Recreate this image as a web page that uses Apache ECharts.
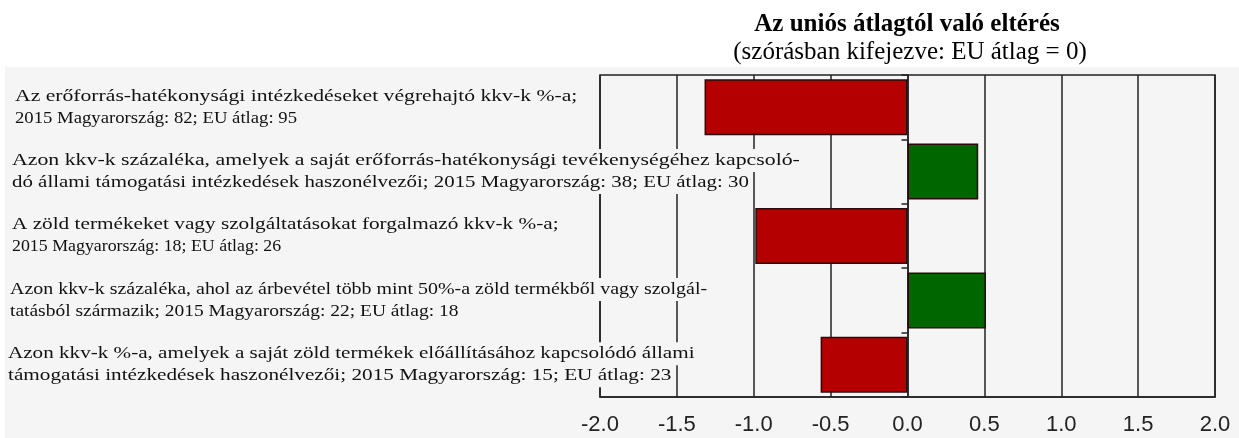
<!DOCTYPE html>
<html>
<head>
<meta charset="utf-8">
<script src="https://cdn.jsdelivr.net/npm/echarts@6/dist/echarts.min.js"></script>
<style>
  html, body { margin: 0; padding: 0; background: #ffffff; }
  #chart { width: 1239px; height: 438px; }
</style>
</head>
<body>
<div id="chart"></div>
<script>
const labelLine1 = [
  "Az erőforrás-hatékonysági intézkedéseket végrehajtó kkv-k %-a;",
  "Azon kkv-k százaléka, amelyek a saját erőforrás-hatékonysági tevékenységéhez kapcsoló-",
  "A zöld termékeket vagy szolgáltatásokat forgalmazó kkv-k %-a;",
  "Azon kkv-k százaléka, ahol az árbevétel több mint 50%-a zöld termékből vagy szolgál-",
  "Azon kkv-k %-a, amelyek a saját zöld termékek előállításához kapcsolódó állami"
];
const labelLine2 = [
  "2015 Magyarország: 82; EU átlag: 95",
  "dó állami támogatási intézkedések haszonélvezői; 2015 Magyarország: 38; EU átlag: 30",
  "2015 Magyarország: 18; EU átlag: 26",
  "tatásból származik; 2015 Magyarország: 22; EU átlag: 18",
  "támogatási intézkedések haszonélvezői; 2015 Magyarország: 15; EU átlag: 23"
];
const deviation = [-1.32, 0.46, -0.99, 0.51, -0.565];
const titleText = "Az uniós átlagtól való eltérés";
const subtitleText = "(szórásban kifejezve: EU átlag = 0)";

// text styling (horizontal stretch of each label line, left offset of each label)
const stretchLine1 = [1.274, 1.283, 1.25, 1.173, 1.242];
const stretchLine2 = [1.1, 1.229, 1.05, 1.146, 1.248];
const labelLeft = [15, 12, 12, 10, 8];

const categories = labelLine1.map((l, i) => l + "\n" + labelLine2[i]);

const chart = echarts.init(document.getElementById('chart'), null, { renderer: 'canvas' });
const serif = "Liberation Serif";
const BG = '#f5f5f5';

chart.setOption({
  animation: false,
  backgroundColor: '#ffffff',
  graphic: [{
    id: 'bg', type: 'rect', z: -10, silent: true,
    shape: { x: 5, y: 67, width: 1234, height: 371 },
    style: { fill: BG }
  }],
  title: [
    { text: titleText, left: 907, top: 12, textAlign: 'center', padding: 0,
      textStyle: { fontFamily: serif, fontSize: 25, fontWeight: 'bold', color: '#000' } },
    { text: subtitleText, left: 910, top: 40, textAlign: 'center', padding: 0,
      textStyle: { fontFamily: serif, fontSize: 25, fontWeight: 'normal', color: '#000' } }
  ],
  grid: { left: 600, right: 24, top: 75, bottom: 41, show: true, borderColor: '#222', borderWidth: 1.5, backgroundColor: 'transparent' },
  xAxis: {
    type: 'value', min: -2, max: 2, interval: 0.5,
    axisLine: { show: true, onZero: false, lineStyle: { color: '#222', width: 1.5 } },
    axisTick: { show: false },
    axisLabel: { formatter: v => v.toFixed(1), fontFamily: "Liberation Sans", fontSize: 22, color: '#222', margin: 17 },
    splitLine: { show: true, lineStyle: { color: '#222', width: 1.5 } }
  },
  yAxis: [{
    type: 'category', data: categories, inverse: true,
    axisLine: { show: false, onZero: false },
    axisTick: { show: false },
    splitLine: { show: false },
    axisLabel: { show: false }
  }, {
    type: 'category', data: categories, inverse: true, position: 'left',
    axisLine: { show: true, onZero: true, lineStyle: { color: '#222', width: 1.5 } },
    axisTick: { show: true, length: 6, lineStyle: { color: '#222', width: 1.5 } },
    axisLabel: { show: false },
    splitLine: { show: false }
  }],
  series: [{
    type: 'bar', yAxisIndex: 0,
    data: deviation,
    barCategoryGap: '13%',
    itemStyle: {
      color: p => p.value < 0 ? '#b40000' : '#006600',
      borderColor: '#2a0a0a', borderWidth: 1.5
    }
  }]
});

// Category labels: two text lines per category, placed at the category centre from the axis scale
const labelEls = [];
categories.forEach((c, i) => {
  const cy = chart.convertToPixel({ yAxisIndex: 0 }, c);
  [labelLine1[i], labelLine2[i]].forEach((t, k) => {
    labelEls.push({
      type: 'text', z: 10, silent: true,
      x: labelLeft[i], y: cy + (k === 0 ? -11 : 11),
      scaleX: k === 0 ? stretchLine1[i] : stretchLine2[i], scaleY: 1,
      style: {
        text: t, fontFamily: serif, fontSize: 17, fill: '#111',
        align: 'left', verticalAlign: 'middle',
        backgroundColor: BG, padding: [3, 0, 3, 0]
      }
    });
  });
});
chart.setOption({ graphic: labelEls.map((e, i) => Object.assign({ id: 'lbl' + i }, e)) });
</script>
</body>
</html>
